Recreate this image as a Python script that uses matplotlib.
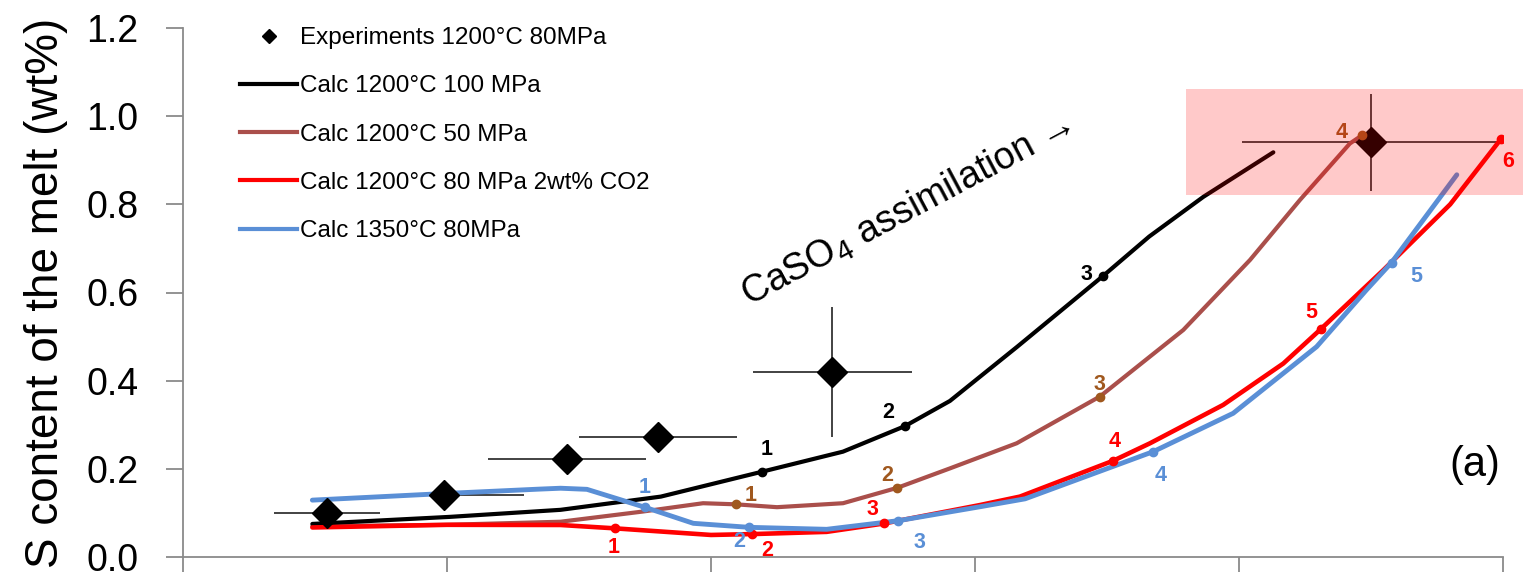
import numpy as np
import matplotlib
matplotlib.use("Agg")
from matplotlib import pyplot as plt
from matplotlib.lines import Line2D
from matplotlib.patches import Rectangle

# experiments (diamonds with error bars)
exp_x = [0.545, 0.99, 1.455, 1.80, 2.46, 4.50]
exp_y = [0.100, 0.141, 0.222, 0.272, 0.420, 0.941]
exp_xerr_lo = [0.20, 0.05, 0.30, 0.30, 0.30, 0.49]
exp_xerr_hi = [0.20, 0.30, 0.30, 0.30, 0.30, 0.49]
exp_yerr = [0.0, 0.0, 0.0, 0.0, 0.147, 0.11]

# calculated curves
black_x = [0.49, 1.01, 1.43, 1.81, 2.19, 2.50, 2.735, 2.905, 3.16, 3.486, 3.66, 3.865, 4.13]
black_y = [0.075, 0.091, 0.107, 0.137, 0.193, 0.239, 0.297, 0.354, 0.477, 0.638, 0.727, 0.817, 0.918]
brown_x = [0.49, 1.0, 1.43, 1.74, 1.97, 2.094, 2.25, 2.50, 2.706, 2.905, 3.158, 3.473,
           3.789, 4.042, 4.231, 4.42, 4.467]
brown_y = [0.070, 0.073, 0.080, 0.103, 0.122, 0.1195, 0.113, 0.122, 0.157, 0.201, 0.258, 0.364,
           0.515, 0.674, 0.810, 0.938, 0.957]
red_x = [0.49, 1.0, 1.43, 1.636, 2.0, 2.157, 2.438, 2.655, 3.02, 3.17, 3.524, 3.663, 3.94,
         4.168, 4.309, 4.547, 4.8, 4.992]
red_y = [0.067, 0.073, 0.0726, 0.065, 0.050, 0.052, 0.057, 0.076, 0.118, 0.137, 0.2185, 0.258,
         0.345, 0.439, 0.5165, 0.651, 0.800, 0.948]
blue_x = [0.49, 0.99, 1.35, 1.43, 1.53, 1.75, 1.933, 2.144, 2.438, 2.71, 3.019, 3.19, 3.675,
          3.978, 4.294, 4.483, 4.578, 4.825]
blue_y = [0.129, 0.144, 0.154, 0.156, 0.1535, 0.1127, 0.0764, 0.0673, 0.0628, 0.0824, 0.114,
          0.132, 0.239, 0.326, 0.477, 0.606, 0.668, 0.867]

# numbered points on the curves: (x, y, label offset in points)
black_pts = [(2.194, 0.1935, (3, 16)), (2.735, 0.297, (-12, 10)), (3.486, 0.638, (-12, 1))]
brown_pts = [(2.094, 0.1195, (11, 6)), (2.706, 0.157, (-7, 9)), (3.473, 0.364, (0, 9)),
             (4.467, 0.957, (-15, 2))]
red_pts = [(1.636, 0.065, (-1, -14)), (2.157, 0.052, (11, -12)), (2.655, 0.0764, (-8, 10)),
           (3.524, 0.2185, (1, 14)), (4.309, 0.5165, (-7, 12)), (4.992, 0.948, (5, -16))]
blue_pts = [(1.75, 0.1127, (0, 14)), (2.144, 0.0673, (-7, -10)), (2.71, 0.0824, (15, -16)),
            (3.675, 0.239, (5, -17)), (4.578, 0.668, (18, -10))]

labels = ["Experiments 1200°C 80MPa", "Calc 1200°C 100 MPa", "Calc 1200°C 50 MPa",
          "Calc 1200°C 80 MPa 2wt% CO2", "Calc 1350°C 80MPa"]

c_black = "black"
c_brown = "#AA4F4B"
c_brown_pt = "#A0581E"
c_red = "#FF0000"
c_blue = "#5A8FD6"
c_axis = "#8A8A8A"

plt.rcParams['font.family'] = ['Liberation Sans', 'DejaVu Sans']

fig = plt.figure(figsize=(15.23, 5.76), dpi=100)
ax = fig.add_axes([183 / 1523, 19 / 576, 1320 / 1523, 529 / 576])

ax.plot(black_x, black_y, color=c_black, lw=3, solid_capstyle='round', solid_joinstyle='round', zorder=3)
ax.plot(brown_x, brown_y, color=c_brown, lw=3, solid_capstyle='round', solid_joinstyle='round', zorder=2)
ax.plot(red_x, red_y, color=c_red, lw=3.3, solid_capstyle='round', solid_joinstyle='round', zorder=3)
ax.plot(blue_x, blue_y, color=c_blue, lw=3.5, solid_capstyle='round', solid_joinstyle='round', zorder=3)

for pts, col in [(black_pts, c_black), (brown_pts, c_brown_pt), (red_pts, c_red), (blue_pts, c_blue)]:
    for i, (px, py, off) in enumerate(pts):
        ax.plot(px, py, 'o', color=col, ms=6, zorder=6)
        ax.annotate(str(i + 1), (px, py), xytext=off, textcoords='offset points',
                    ha='center', va='center', fontsize=15.5, fontweight='bold',
                    color=col, zorder=7)

ax.errorbar(exp_x, exp_y, xerr=[exp_xerr_lo, exp_xerr_hi], yerr=exp_yerr, fmt='none',
            ecolor='#222222', elinewidth=1.2, capsize=0, zorder=1)
ax.plot(exp_x, exp_y, 'D', color='black', ms=15, zorder=5)

# highlighted region
ax.add_patch(Rectangle((3.80, 0.821), 1.28, 0.241, facecolor='red', alpha=0.21,
                       edgecolor='none', zorder=8, clip_on=False))

ax.text(2.74, 0.785, "CaSO$_4$ assimilation →", rotation=28, ha='center', va='center',
        rotation_mode='anchor', fontsize=27)
ax.text(4.894, 0.209, "(a)", fontsize=30, ha='center', va='center')

ax.set_xlim(0, 5)
ax.set_ylim(0, 1.2)
ax.set_xticks(np.arange(0, 6, 1))
ax.set_xticklabels([])
ax.set_yticks(np.arange(0, 1.21, 0.2))
ax.set_yticklabels([f"{v:.1f}" for v in np.arange(0, 1.21, 0.2)])
for s in ['top', 'right']:
    ax.spines[s].set_visible(False)
for s in ['left', 'bottom']:
    ax.spines[s].set_color(c_axis)
    ax.spines[s].set_linewidth(1.3)
ax.tick_params(axis='x', direction='out', length=11, width=1.3, color=c_axis)
ax.tick_params(axis='y', direction='out', length=12, width=1.3, color=c_axis,
               labelsize=27, pad=20)
ax.set_ylabel("S content of the melt (wt%)", fontsize=33)
ax.yaxis.set_label_coords(-0.087, 0.5)

handles = [Line2D([], [], marker='D', color='black', ls='none', ms=7),
           Line2D([], [], color=c_black, lw=3),
           Line2D([], [], color=c_brown, lw=3),
           Line2D([], [], color=c_red, lw=3),
           Line2D([], [], color=c_blue, lw=3)]
fig.legend(handles, labels, loc='upper left', bbox_to_anchor=(240 / 1523, 1 - 27 / 576),
           frameon=False, fontsize=17.5, handlelength=2.35, handletextpad=0.12,
           labelspacing=1.08, borderpad=0, borderaxespad=0)

fig.savefig("out.png", dpi=100)
